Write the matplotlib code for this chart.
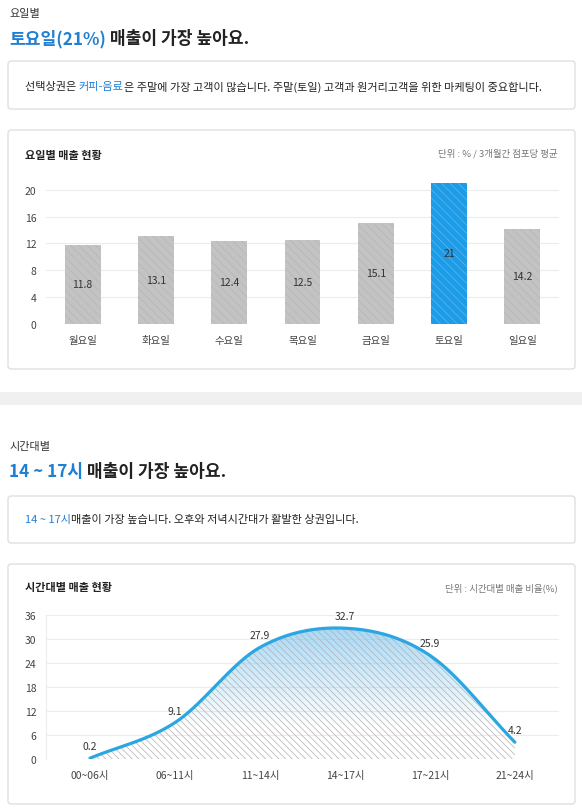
import matplotlib
matplotlib.use('Agg')
import matplotlib.pyplot as plt
from matplotlib.patches import FancyBboxPatch, Rectangle, Polygon
import numpy as np

plt.rcParams['font.family'] = ['Noto Sans CJK KR', 'DejaVu Sans']
plt.rcParams['hatch.linewidth'] = 0.5

# === DATA ===
day_labels = ['월요일', '화요일', '수요일', '목요일', '금요일', '토요일', '일요일']
day_sales = [11.8, 13.1, 12.4, 12.5, 15.1, 21, 14.2]
day_ticks = [0, 4, 8, 12, 16, 20]
day_best = 5

time_labels = ['00~06시', '06~11시', '11~14시', '14~17시', '17~21시', '21~24시']
time_sales = [0.2, 9.1, 27.9, 32.7, 25.9, 4.2]
time_ticks = [0, 6, 12, 18, 24, 30, 36]

# === STYLE ===
W, H = 582, 812
BLUE_TXT = '#1f7fd1'
DARK = '#222222'
GRAY_TXT = '#777777'
TICK = '#444444'
GRID = '#ececec'
BORDER = '#dcdcdc'

fig = plt.figure(figsize=(W / 100, H / 100), dpi=100)
fig.patch.set_facecolor('white')

# background axes in pixel coordinates (y down)
bg = fig.add_axes([0, 0, 1, 1])
bg.set_xlim(0, W)
bg.set_ylim(H, 0)
bg.axis('off')
renderer = fig.canvas.get_renderer()


def card(x0, y0, x1, y1):
    bg.add_patch(FancyBboxPatch((x0, y0), x1 - x0, y1 - y0,
                                boxstyle='round,pad=0,rounding_size=3',
                                fc='white', ec=BORDER, lw=0.9))


def text_width(s, **kw):
    t = bg.text(0, 0, s + '|', **kw)
    w1 = t.get_window_extent(renderer=renderer).width
    t.set_text('|')
    w2 = t.get_window_extent(renderer=renderer).width
    t.remove()
    return w1 - w2


def rich(x, y, parts, **kw):
    for s, c in parts:
        bg.text(x, y, s, color=c, va='center', ha='left', **kw)
        x += text_width(s, **kw)


def px_axes(x0, y_top, x1, y_bot):
    return fig.add_axes([x0 / W, 1 - y_bot / H, (x1 - x0) / W, (y_bot - y_top) / H])


def smooth(xv, yv, n=40):
    # cubic Hermite curve through the points (drawing only)
    xv = np.asarray(xv, float)
    yv = np.asarray(yv, float)
    m = np.gradient(yv, xv)
    t = np.linspace(0, 1, n)
    h00 = 2 * t**3 - 3 * t**2 + 1
    h10 = t**3 - 2 * t**2 + t
    h01 = -2 * t**3 + 3 * t**2
    h11 = t**3 - t**2
    ox, oy = [], []
    for i in range(len(xv) - 1):
        h = xv[i + 1] - xv[i]
        ox.append(xv[i] + t * h)
        oy.append(h00 * yv[i] + h10 * h * m[i] + h01 * yv[i + 1] + h11 * h * m[i + 1])
    return np.concatenate(ox), np.concatenate(oy)


def style_axes(ax, ticks):
    ax.set_facecolor('none')
    ax.set_yticks(ticks)
    ax.yaxis.grid(True, color=GRID, lw=0.8)
    ax.set_axisbelow(True)
    for s in ax.spines.values():
        s.set_visible(False)
    ax.tick_params(length=0, labelsize=7.5, labelcolor=TICK)
    ax.tick_params(axis='y', pad=7)
    ax.tick_params(axis='x', pad=8)


# === SECTION 1: by weekday ===
bg.text(9, 14, '요일별', fontsize=8, color='#333333', va='center')
rich(9, 39, [('토요일(21%)', BLUE_TXT), (' 매출이 가장 높아요.', DARK)],
     fontsize=12.3, fontweight='bold')

card(8, 62, 575, 110)
rich(25, 87, [('선택상권은 ', DARK), ('커피-음료', BLUE_TXT),
              ('은 주말에 가장 고객이 많습니다. 주말(토일) 고객과 원거리고객을 위한 마케팅이 중요합니다.', DARK)],
     fontsize=8)

card(8, 131, 575, 370)
bg.text(25, 155, '요일별 매출 현황', fontsize=8, fontweight='bold', color=DARK, va='center')
bg.text(558, 154, '단위 : % / 3개월간 점포당 평균', fontsize=6.8, color=GRAY_TXT,
        va='center', ha='right')

ax1 = px_axes(46, 184, 559, 325)
style_axes(ax1, day_ticks)
xpos = np.arange(len(day_labels))
bars = ax1.bar(xpos, day_sales, width=0.49, lw=0, hatch='\\\\\\\\', zorder=2)
for i, b in enumerate(bars):
    if i == day_best:
        b.set_facecolor('#1d9be6')
        b.set_edgecolor('#5cbaf0')
    else:
        b.set_facecolor('#c3c3c3')
        b.set_edgecolor('#b5b5b5')
    ax1.text(i, day_sales[i] / 2, f'{day_sales[i]:g}', ha='center', va='center',
             fontsize=7.5, color='#333333', zorder=3)
ax1.set_xticks(xpos)
ax1.set_xticklabels(day_labels)
ax1.set_xlim(-0.5, 6.5)
ax1.set_ylim(0, 21)

# separator band
bg.add_patch(Rectangle((0, 393), W, 13, fc='#f0f0f0', ec='none'))

# === SECTION 2: by time of day ===
bg.text(9, 447, '시간대별', fontsize=8, color='#333333', va='center')
rich(9, 472, [('14 ~ 17시', BLUE_TXT), (' 매출이 가장 높아요.', DARK)],
     fontsize=12.3, fontweight='bold')

card(8, 497, 575, 544)
rich(25, 520, [('14 ~ 17시', BLUE_TXT), ('매출이 가장 높습니다. 오후와 저녁시간대가 활발한 상권입니다.', DARK)],
     fontsize=8)

card(8, 565, 575, 805)
bg.text(25, 588, '시간대별 매출 현황', fontsize=8, fontweight='bold', color=DARK, va='center')
bg.text(558, 588, '단위 : 시간대별 매출 비율(%)', fontsize=6.8, color=GRAY_TXT,
        va='center', ha='right')

ax2 = px_axes(46, 616, 559, 760)
style_axes(ax2, time_ticks)
ax2.spines['left'].set_visible(True)
ax2.spines['left'].set_color(GRID)
tpos = np.arange(len(time_labels))
sx, sy = smooth(tpos, time_sales)

verts = np.column_stack([np.r_[sx, sx[::-1]], np.r_[sy, np.zeros_like(sy)]])
clip = Polygon(verts, closed=True, fc='none', ec='none', transform=ax2.transData)
ax2.add_patch(clip)

# vertical gradient, light blue on top fading to white
yy = np.linspace(0, 36, 200)
alpha = np.clip((yy - 8) / (33 - 8), 0, 1) * 0.62
img = np.zeros((len(yy), 2, 4))
img[..., 0] = 0.45
img[..., 1] = 0.76
img[..., 2] = 0.95
img[..., 3] = alpha[:, None]
im = ax2.imshow(img, extent=[sx.min(), sx.max(), 0, 36], origin='lower',
                aspect='auto', zorder=1, interpolation='bilinear')
im.set_clip_path(clip)

ax2.fill_between(sx, sy, 0, facecolor='none', edgecolor='#b0b0b0', hatch='\\\\\\\\\\',
                 lw=0, zorder=2)
ax2.plot(sx, sy, color='#2aa6e2', lw=2.3, solid_capstyle='round', zorder=3)
for i, v in enumerate(time_sales):
    ax2.annotate(f'{v:g}', (i, v), xytext=(0, 12), textcoords='offset pixels',
                 ha='center', va='center', fontsize=7.5, color='#333333', zorder=4)
ax2.set_xticks(tpos)
ax2.set_xticklabels(time_labels)
ax2.set_xlim(-0.518, 5.52)
ax2.set_ylim(0, 36)

fig.savefig('out.png', dpi=100, facecolor='white')
